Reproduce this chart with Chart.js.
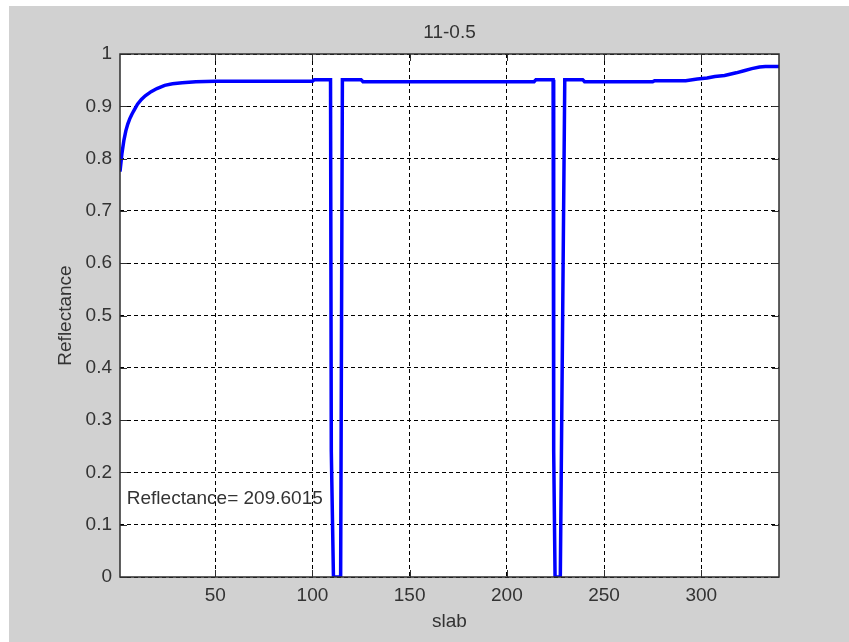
<!DOCTYPE html>
<html>
<head>
<meta charset="utf-8">
<script src="https://cdn.jsdelivr.net/npm/chart.js@4.4.1/dist/chart.umd.min.js"></script>
<style>
  html, body { margin: 0; padding: 0; background: #fff; }
  canvas { display: block; }
</style>
</head>
<body>
<canvas id="chart" width="849" height="642"></canvas>
<script>
// values
const slab = [1, 2, 3, 4, 5, 6, 7, 8, 10, 12, 14, 17, 20, 24, 28, 33, 40, 50,
  100, 101, 109.3, 109.7, 110.8, 114.5, 115.4, 125, 126, 214, 215,
  223.8, 224.1, 224.8, 227.5, 229.8, 239, 240, 275, 276,
  292, 298, 303, 307, 312, 318, 322, 326, 330, 333, 340];
const reflectance = [0.775, 0.81, 0.835, 0.853, 0.866, 0.876, 0.884, 0.891, 0.904, 0.913, 0.92, 0.928, 0.934, 0.94, 0.943, 0.945, 0.947, 0.948,
  0.948, 0.951, 0.951, 0.24, 0, 0, 0.951, 0.951, 0.947, 0.947, 0.951,
  0.951, 0.24, 0, 0, 0.951, 0.951, 0.947, 0.947, 0.949,
  0.949, 0.952, 0.954, 0.957, 0.959, 0.964, 0.968, 0.972, 0.975, 0.976, 0.976];

const xTicks = [50, 100, 150, 200, 250, 300];
const yTicks = [0, 0.1, 0.2, 0.3, 0.4, 0.5, 0.6, 0.7, 0.8, 0.9, 1];
const yTickLabels = ["0", "0.1", "0.2", "0.3", "0.4", "0.5", "0.6", "0.7", "0.8", "0.9", "1"];

const chartTitle = "11-0.5";
const xTitle = "slab";
const yTitle = "Reflectance";
const noteText = "Reflectance= 209.6015";
const noteSlab = 4.5;
const noteValue = 0.15;

const FONT = "'Liberation Sans', Arial, sans-serif";
const TEXT = "#333333";

// grey figure, white axes box
const figureBg = {
  id: "figureBg",
  beforeDraw(chart) {
    const { ctx, width, height, chartArea: a } = chart;
    ctx.save();
    ctx.fillStyle = "#ffffff";
    ctx.fillRect(0, 0, width, height);
    ctx.fillStyle = "#d1d1d1";
    ctx.fillRect(9, 6, width - 9, height - 6);
    ctx.fillStyle = "#ffffff";
    ctx.fillRect(a.left, a.top, a.right - a.left, a.bottom - a.top);
    ctx.restore();
  }
};

// matlab style frame, inward ticks, title over the axes and the text note
const axesBox = {
  id: "axesBox",
  afterDatasetsDraw(chart) {
    const { ctx, chartArea: a, scales } = chart;
    ctx.save();
    ctx.strokeStyle = "#2e2e2e";
    ctx.lineWidth = 1.5;
    ctx.strokeRect(a.left, a.top, a.right - a.left, a.bottom - a.top);
    ctx.lineWidth = 1;
    ctx.beginPath();
    xTicks.forEach(v => {
      const px = Math.round(scales.x.getPixelForValue(v)) + 0.5;
      ctx.moveTo(px, a.bottom); ctx.lineTo(px, a.bottom - 7);
      ctx.moveTo(px, a.top); ctx.lineTo(px, a.top + 7);
    });
    yTicks.forEach(v => {
      const py = Math.round(scales.y.getPixelForValue(v)) + 0.5;
      ctx.moveTo(a.left, py); ctx.lineTo(a.left + 7, py);
      ctx.moveTo(a.right, py); ctx.lineTo(a.right - 7, py);
    });
    ctx.stroke();

    ctx.fillStyle = TEXT;
    ctx.font = "19px " + FONT;
    ctx.textBaseline = "middle";
    ctx.textAlign = "center";
    ctx.fillText(chartTitle, (a.left + a.right) / 2, a.top - 21);
    ctx.textAlign = "left";
    ctx.fillText(noteText, scales.x.getPixelForValue(noteSlab), scales.y.getPixelForValue(noteValue));
    ctx.restore();
  }
};

const ctx = document.getElementById("chart").getContext("2d");
new Chart(ctx, {
  type: "line",
  data: {
    datasets: [{
      label: yTitle,
      data: slab.map((s, i) => ({ x: s, y: reflectance[i] })),
      borderColor: "#0000ff",
      borderWidth: 3.5,
      pointRadius: 0,
      tension: 0,
      fill: false
    }]
  },
  options: {
    responsive: false,
    animation: false,
    devicePixelRatio: 1,
    layout: { padding: { left: 0, top: 54, right: 70, bottom: 0 } },
    plugins: {
      legend: { display: false },
      tooltip: { enabled: false },
      title: { display: false }
    },
    scales: {
      x: {
        type: "linear",
        min: 1,
        max: 340,
        afterBuildTicks: s => { s.ticks = xTicks.map(v => ({ value: v })); },
        afterFit: s => { s.height = 65; },
        ticks: {
          color: TEXT,
          font: { family: FONT, size: 19 },
          padding: 7,
          maxRotation: 0,
          callback: v => String(v)
        },
        grid: { color: "#000000", lineWidth: 1, drawTicks: false },
        border: { display: false, dash: [4, 3] },
        title: {
          display: true,
          text: xTitle,
          color: TEXT,
          font: { family: FONT, size: 19 },
          padding: { top: 0, bottom: 8.6 }
        }
      },
      y: {
        min: 0,
        max: 1,
        afterBuildTicks: s => { s.ticks = yTicks.map(v => ({ value: v })); },
        afterFit: s => { s.width = 120; },
        ticks: {
          color: TEXT,
          font: { family: FONT, size: 19 },
          padding: 8,
          callback: (v, i) => yTickLabels[i]
        },
        grid: { color: "#000000", lineWidth: 1, drawTicks: false },
        border: { display: false, dash: [4, 3] },
        title: {
          display: true,
          text: yTitle,
          color: TEXT,
          font: { family: FONT, size: 19 },
          padding: { top: 54, bottom: 0 }
        }
      }
    }
  },
  plugins: [figureBg, axesBox]
});
</script>
</body>
</html>
